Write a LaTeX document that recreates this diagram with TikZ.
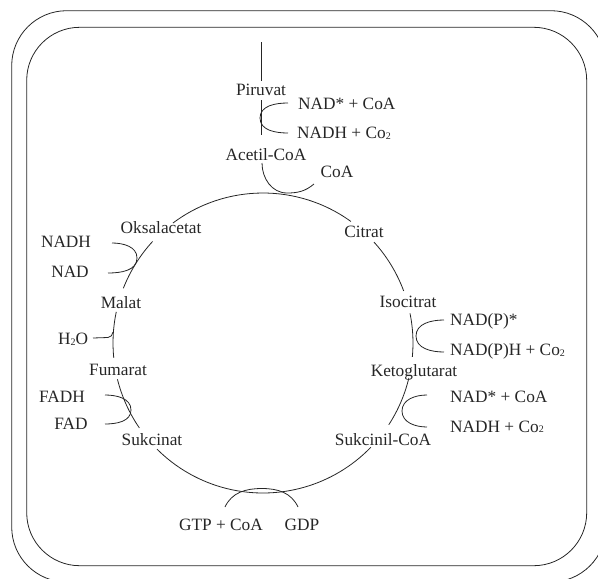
\documentclass[tikz,border=0pt]{standalone}
\usepackage{fontspec}
\setmainfont{Liberation Serif}
\newcommand\lowtwo{\raisebox{-0.6pt}{\fontsize{10}{10}\selectfont 2}}
\begin{document}
\begin{tikzpicture}[x=1pt,y=-1pt,
  ln/.style={draw=black!85, line width=0.8pt},
  lbl/.style={inner sep=0pt, font=\fontsize{17.3}{20}\selectfont, text=black!85, anchor=base},
  lblw/.style={lbl, anchor=base west}]
\useasboundingbox (0,0) rectangle (598,579);
\clip (0,0) rectangle (598,579);
% frames
\draw[ln, rounded corners=55pt] (11.7,10.7) rectangle (606,582);
\draw[ln, rounded corners=53pt] (26.7,27.3) rectangle (586.7,565.7);

% labels
\node[lbl] (piru) at (261,95.5) {Piruvat};
\node[lblw] (nadcoa1) at (298,109.5) {NAD* + CoA};
\node[lblw] (nadh1) at (297,138.5) {NADH + Co\lowtwo};
\node[lbl] (acetil) at (266,160.5) {Acetil-CoA};
\node[lbl] (coa) at (337,177.5) {CoA};
\node[lbl] (citrat) at (364,237.5) {Citrat};
\node[lbl] (isocit) at (408,307.5) {Isocitrat};
\node[lblw] (nadp) at (450,325.5) {NAD(P)*};
\node[lblw] (nadph) at (450,355.5) {NAD(P)H + Co\lowtwo};
\node[lbl] (keto) at (414,376.5) {Ketoglutarat};
\node[lblw] (nadcoa2) at (450,402) {NAD* + CoA};
\node[lblw] (nadh2) at (450,432) {NADH + Co\lowtwo};
\node[lbl] (sukcoa) at (383,445.5) {Sukcinil-CoA};
\node[lbl] (gtp) at (221,530.5) {GTP + CoA};
\node[lbl] (gdp) at (302,530.5) {GDP};
\node[lbl] (sukc) at (152,445.5) {Sukcinat};
\node[lbl] (fadh) at (62,402.5) {FADH};
\node[lbl] (fad) at (71,429.5) {FAD};
\node[lbl] (fuma) at (118,375.5) {Fumarat};
\node[lbl] (hho) at (73,344.5) {H\lowtwo O};
\node[lbl] (malat) at (121,308.5) {Malat};
\node[lbl] (nad) at (70,277.5) {NAD};
\node[lbl] (nadh) at (66,247.5) {NADH};
\node[lbl] (oksa) at (161,233.5) {Oksalacetat};

% cycle centre
\coordinate (c) at (263,343);

% cycle arcs
\draw[ln] ([shift={(-126.9:150)}]c) arc[start angle=-126.9, end angle=-54.1, radius=150];
\draw[ln] ([shift={(-42.3:150)}]c) arc[start angle=-42.3, end angle=-20.3, radius=150];
\draw[ln] ([shift={(-11.4:150)}]c) arc[start angle=-11.4, end angle=5.3, radius=150];
\draw[ln] ([shift={(13.5:150)}]c) arc[start angle=13.5, end angle=33, radius=150];
\draw[ln] ([shift={(44:150)}]c) arc[start angle=44, end angle=135, radius=150];
\draw[ln] ([shift={(145.5:150)}]c) arc[start angle=145.5, end angle=166, radius=150];
\draw[ln] ([shift={(174.3:150)}]c) arc[start angle=174.3, end angle=192, radius=150];
\draw[ln] ([shift={(201.4:150)}]c) arc[start angle=201.4, end angle=222.6, radius=150];

% entry line
\coordinate (top) at (261,42);
\coordinate (p1) at (261,81);
\coordinate (p2) at (261,100);
\coordinate (p3) at (261,135);
\draw[ln] (top) -- (p1);
\draw[ln] (p2) -- (p3);
% piruvat reaction
\coordinate (r1a) at (288,103);
\coordinate (r1m) at (260,118);
\coordinate (r1b) at (288,133);
\draw[ln] (r1a) to[out=180,in=90] (r1m) to[out=-90,in=180] (r1b);
% acetyl into cycle
\coordinate (a1) at (262,163);
\coordinate (a2) at (287,193);
\coordinate (a3) at (314,184);
\draw[ln] (a1) to[out=-90,in=180] (a2) to[out=0,in=-140] (a3);
% isocitrat reaction
\coordinate (i1) at (444,320);
\coordinate (im) at (416,336);
\coordinate (i2) at (444,352);
\draw[ln] (i1) to[out=180,in=90] (im) to[out=-90,in=180] (i2);
% ketoglutarat reaction
\coordinate (k1) at (427,395);
\coordinate (km) at (402,411);
\coordinate (k2) at (427,427);
\draw[ln] (k1) to[out=180,in=90] (km) to[out=-90,in=180] (k2);
% GTP reaction
\coordinate (g1) at (225,507);
\coordinate (gm) at (262,488.5);
\coordinate (g2) at (298,507);
\draw[ln] (g1) to[out=65,in=180] (gm) to[out=0,in=115] (g2);
% FAD reaction
\coordinate (f1) at (105,395);
\coordinate (fm) at (131,410);
\coordinate (f2) at (105,424);
\draw[ln] (f1) to[out=0,in=90] (fm) to[out=-90,in=0] (f2);
% water
\coordinate (w1) at (93,338);
\coordinate (w2) at (108,337.5);
\coordinate (w3) at (113,332);
\draw[ln] (w1) -- (w2) to[out=0,in=-100] (w3);
% NAD reaction
\coordinate (n1) at (112,243);
\coordinate (nm) at (137,258);
\coordinate (n2) at (108,273);
\draw[ln] (n1) to[out=0,in=90] (nm) to[out=-90,in=0] (n2);
\end{tikzpicture}
\end{document}
